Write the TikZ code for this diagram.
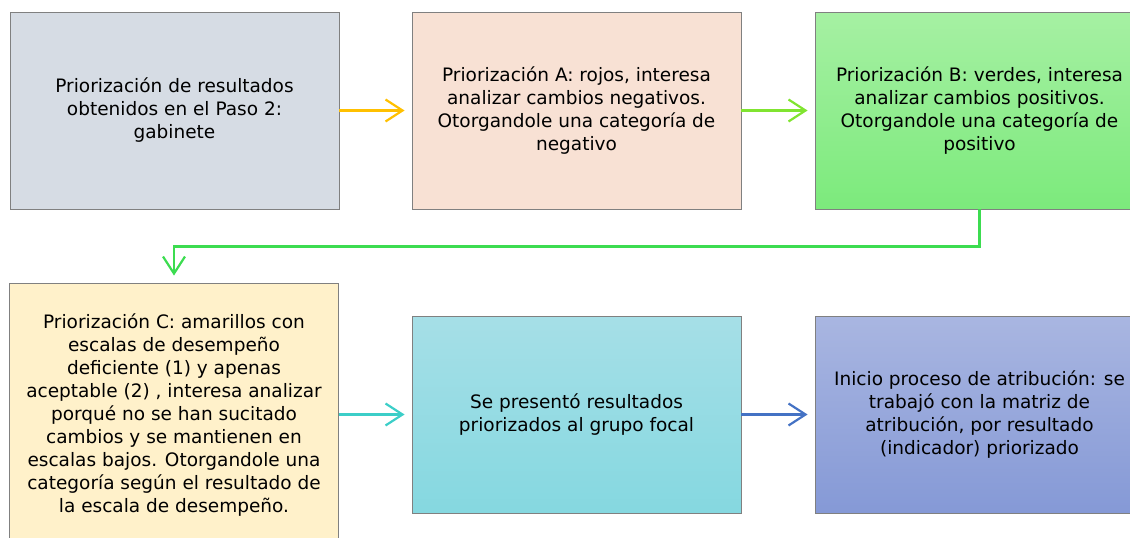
\documentclass[tikz,border=0pt]{standalone}
\usepackage{fontspec}
\setmainfont{DejaVu Sans}
\usetikzlibrary{arrows.meta}
\definecolor{grisazul}{HTML}{D6DCE4}
\definecolor{durazno}{HTML}{F8E1D4}
\definecolor{crema}{HTML}{FFF1CA}
\definecolor{borde}{HTML}{808080}
\begin{document}
\begin{tikzpicture}[x=1pt, y=-1pt,
    box/.style={draw=borde, line width=0.9pt, rectangle, minimum width=329pt, minimum height=197pt,
                align=center, font=\fontsize{18.5}{23}\selectfont, inner sep=0pt},
    flecha/.style={line width=2.4pt, -{Straight Barb[length=17pt, width=22pt, line width=2.2pt]}, shorten >=7pt}]
  \clip (0,0) rectangle (1130,538);
  \useasboundingbox (0,0) rectangle (1130,538);

  \node[box, fill=grisazul] (p0) at (174.5,110.5) {Priorización de resultados\\obtenidos en el Paso 2:\\gabinete};
  \node[box, fill=durazno] (pa) at (576.5,110.5) {Priorización A: rojos, interesa\\analizar cambios negativos.\\Otorgandole una categoría de\\negativo};
  \node[box, top color={rgb,255:red,166;green,240;blue,163}, bottom color={rgb,255:red,124;green,234;blue,124}] (pb) at (979.5,110.5) {Priorización B: verdes, interesa\\analizar cambios positivos.\\Otorgandole una categoría de\\positivo};
  \node[box, fill=crema, minimum height=264pt] (pc) at (174,415) {Priorización C: amarillos con\\escalas de desempeño\\deficiente (1) y apenas\\aceptable (2) , interesa analizar\\porqué no se han sucitado\\cambios y se mantienen en\\escalas bajos. Otorgandole una\\categoría según el resultado de\\la escala de desempeño.};
  \node[box, top color={rgb,255:red,166;green,223;blue,231}, bottom color={rgb,255:red,133;green,216;blue,224}] (gf) at (576.5,414.5) {Se presentó resultados\\priorizados al grupo focal};
  \node[box, top color={rgb,255:red,169;green,182;blue,225}, bottom color={rgb,255:red,133;green,153;blue,214}] (at) at (979.5,414.5) {Inicio proceso de atribución: se\\trabajó con la matriz de\\atribución, por resultado\\(indicador) priorizado};

  \draw[flecha, color={rgb,255:red,255;green,192;blue,0}] (p0) -- (pa);
  \draw[flecha, color={rgb,255:red,128;green,228;blue,48}] (pa) -- (pb);
  \draw[flecha, color={rgb,255:red,60;green,220;blue,80}] (pb.south) -- ++(0,37) -| (pc.north);
  \draw[flecha, color={rgb,255:red,60;green,206;blue,200}] (pc.east |- gf.west) -- (gf);
  \draw[flecha, color={rgb,255:red,68;green,114;blue,196}] (gf) -- (at);
\end{tikzpicture}
\end{document}
